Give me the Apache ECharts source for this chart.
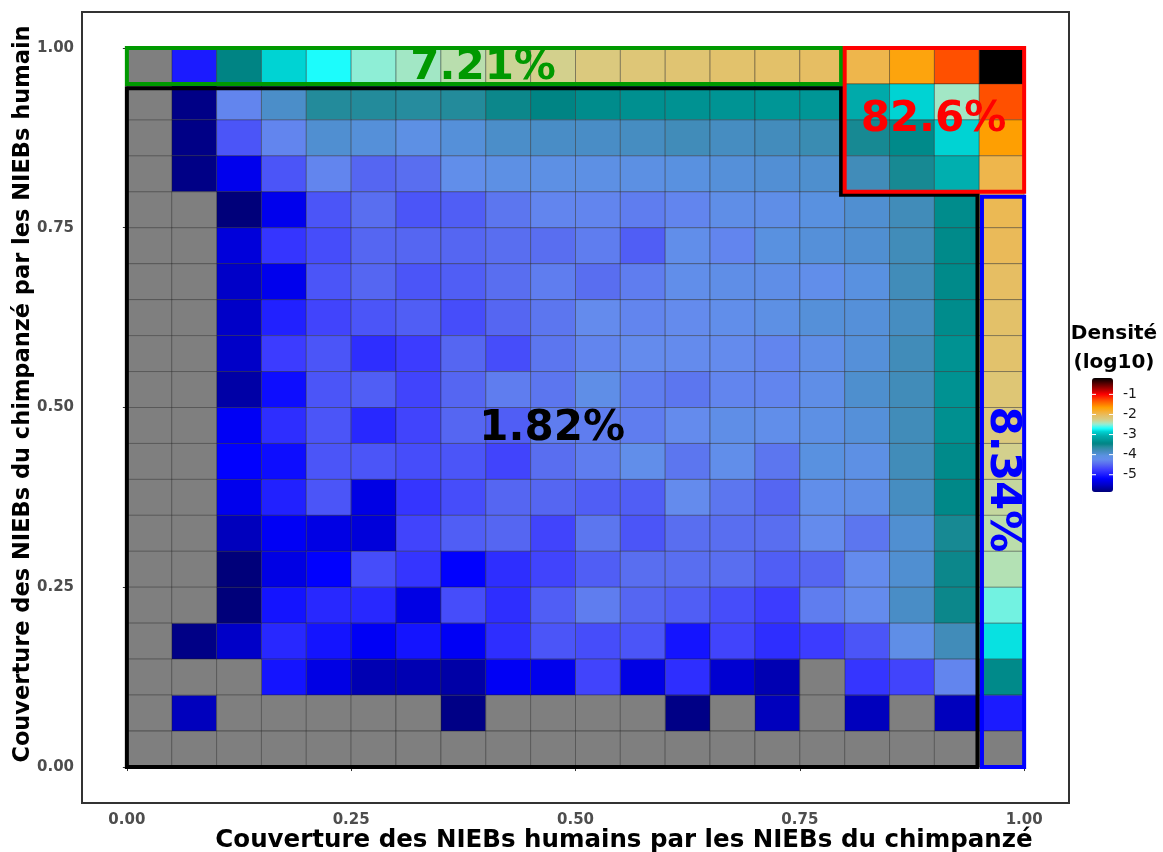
<!DOCTYPE html>
<html>
<head>
<meta charset="utf-8">
<script src="https://cdn.jsdelivr.net/npm/echarts@6/dist/echarts.min.js"></script>
<style>
  html, body { margin: 0; padding: 0; background: #ffffff; }
  #chart { width: 1163px; height: 852px; }
</style>
</head>
<body>
<div id="chart"></div>
<script>
// Left/bottom edge of each coverage bin (bins are 0.05 wide)
const binStarts = [0.00, 0.05, 0.10, 0.15, 0.20, 0.25, 0.30, 0.35, 0.40, 0.45,
                   0.50, 0.55, 0.60, 0.65, 0.70, 0.75, 0.80, 0.85, 0.90, 0.95];
const binWidth = 0.05;

// log10 density of each bin; rows go from the top bin (y = 0.95) down to y = 0,
// columns from x = 0 to x = 0.95; null marks an empty bin
const logDensityRows = [
  [null, -5.0, -3.45, -2.85, -2.7, -2.5, -2.45, -2.38, -2.3, -2.27, -2.2, -2.16, -2.13, -2.1, -2.08, -2.05, -1.95, -1.7, -1.3, -0.185],
  [null, -5.8, -4.3, -3.9, -3.6, -3.6, -3.62, -3.6, -3.5, -3.45, -3.38, -3.35, -3.33, -3.32, -3.3, -3.3, -3.1, -2.85, -2.45, -1.3],
  [null, -5.8, -4.6, -4.3, -3.95, -4.0, -4.1, -4.0, -3.9, -3.88, -3.88, -3.85, -3.8, -3.85, -3.82, -3.75, -3.55, -3.4, -2.85, -1.65],
  [null, -5.8, -5.3, -4.6, -4.3, -4.5, -4.45, -4.2, -4.1, -4.1, -4.1, -4.08, -4.05, -4.0, -3.97, -3.93, -3.8, -3.55, -3.05, -1.95],
  [null, null, -5.85, -5.3, -4.6, -4.45, -4.6, -4.55, -4.4, -4.3, -4.3, -4.35, -4.3, -4.15, -4.15, -4.05, -3.95, -3.8, -3.38, -1.98],
  [null, null, -5.4, -4.8, -4.65, -4.5, -4.5, -4.5, -4.45, -4.45, -4.35, -4.55, -4.2, -4.3, -4.05, -4.0, -3.95, -3.8, -3.4, -2.0],
  [null, null, -5.5, -5.3, -4.6, -4.5, -4.6, -4.55, -4.45, -4.35, -4.45, -4.35, -4.2, -4.15, -4.15, -4.2, -4.05, -3.8, -3.4, -2.05],
  [null, null, -5.5, -4.95, -4.7, -4.6, -4.55, -4.65, -4.5, -4.4, -4.25, -4.3, -4.25, -4.2, -4.1, -4.0, -4.0, -3.85, -3.38, -2.08],
  [null, null, -5.5, -4.75, -4.6, -4.85, -4.75, -4.5, -4.65, -4.4, -4.3, -4.25, -4.25, -4.25, -4.3, -4.15, -4.0, -3.8, -3.33, -2.1],
  [null, null, -5.65, -5.1, -4.6, -4.55, -4.7, -4.5, -4.35, -4.4, -4.15, -4.35, -4.4, -4.3, -4.3, -4.15, -3.93, -3.8, -3.33, -2.15],
  [null, null, -5.25, -4.85, -4.6, -4.9, -4.7, -4.5, -4.55, -4.35, -4.35, -4.35, -4.25, -4.15, -4.2, -4.1, -4.0, -3.8, -3.35, -2.2],
  [null, null, -5.2, -5.1, -4.6, -4.6, -4.65, -4.6, -4.7, -4.45, -4.35, -4.2, -4.4, -4.2, -4.4, -4.05, -4.1, -3.8, -3.4, -2.27],
  [null, null, -5.3, -4.95, -4.6, -5.35, -4.8, -4.65, -4.5, -4.5, -4.55, -4.55, -4.25, -4.4, -4.5, -4.2, -4.15, -3.85, -3.42, -2.33],
  [null, null, -5.55, -5.25, -5.35, -5.4, -4.7, -4.55, -4.5, -4.7, -4.4, -4.6, -4.45, -4.45, -4.45, -4.25, -4.4, -3.95, -3.55, -2.37],
  [null, null, -5.85, -5.35, -5.2, -4.65, -4.8, -5.2, -4.85, -4.7, -4.55, -4.45, -4.45, -4.45, -4.55, -4.5, -4.25, -3.95, -3.5, -2.4],
  [null, null, -5.85, -5.05, -4.9, -4.9, -5.35, -4.65, -4.85, -4.55, -4.35, -4.5, -4.55, -4.65, -4.75, -4.35, -4.25, -3.88, -3.5, -2.55],
  [null, -5.8, -5.5, -4.9, -5.05, -5.25, -5.05, -5.25, -4.85, -4.6, -4.65, -4.6, -5.05, -4.7, -4.85, -4.75, -4.6, -4.15, -3.8, -2.8],
  [null, null, null, -5.05, -5.35, -5.6, -5.6, -5.65, -5.25, -5.3, -4.7, -5.35, -4.85, -5.45, -5.6, null, -4.8, -4.7, -4.3, -3.4],
  [null, -5.55, null, null, null, null, null, -5.8, null, null, null, null, -5.8, null, -5.55, null, -5.55, null, -5.55, -5.0],
  [null, null, null, null, null, null, null, null, null, null, null, null, null, null, null, null, null, null, null, null]
];

const axisTicks = [0, 0.25, 0.5, 0.75, 1];
const legendTicks = [-1, -2, -3, -4, -5];
const densityMin = -5.86;
const densityMax = -0.185;

// Outlined regions (corner coordinates in data units) and their share of all NIEBs
const regionNames = ['haut', 'coin', 'centre', 'droite'];
const regionShares = ['7.21%', '82.6%', '1.82%', '8.34%'];
const regionOutlines = [
  [[0, 0.95], [0.796, 0.95], [0.796, 1], [0, 1], [0, 0.95]],
  [[0.8, 0.8], [1, 0.8], [1, 1], [0.8, 1], [0.8, 0.8]],
  [[0, 0], [0.948, 0], [0.948, 0.796], [0.796, 0.796], [0.796, 0.944], [0, 0.944], [0, 0]],
  [[0.953, 0], [1, 0], [1, 0.793], [0.953, 0.793], [0.953, 0]]
];

// ---- styling / layout ----
const regionColors = ['#009900', '#ff0000', '#000000', '#0000ff'];
const labelAnchors = [[0.397, 0.972], [0.899, 0.899], [0.474, 0.47], [0.975, 0.40]];
const labelRotations = [0, 0, 0, -Math.PI / 2];
const outlineOrder = [0, 2, 3, 1];

const colorStops = [
  [-5.86, [0, 0, 120]], [-5.5, [0, 0, 200]], [-5.2, [0, 0, 255]], [-4.75, [60, 60, 255]],
  [-4.45, [90, 110, 240]], [-4.25, [100, 140, 237]], [-4.05, [90, 145, 225]], [-3.8, [65, 140, 185]],
  [-3.6, [35, 140, 155]], [-3.45, [0, 132, 132]], [-3.3, [0, 150, 150]], [-3.05, [0, 175, 175]],
  [-2.85, [0, 210, 210]], [-2.7, [25, 255, 255]], [-2.5, [144, 238, 215]], [-2.4, [180, 225, 180]],
  [-2.25, [215, 205, 135]], [-2.05, [230, 190, 100]], [-1.9, [242, 178, 65]], [-1.65, [255, 160, 0]],
  [-1.3, [255, 80, 0]], [-1.0, [255, 0, 0]], [-0.185, [0, 0, 0]]
];

function colorAt(v) {
  for (let i = 1; i < colorStops.length; i++) {
    const [v1, c1] = colorStops[i];
    const [v0, c0] = colorStops[i - 1];
    if (v <= v1) {
      const t = (v - v0) / (v1 - v0);
      const c = c0.map((a, k) => Math.round(a + (c1[k] - a) * t));
      return 'rgb(' + c.join(',') + ')';
    }
  }
  const last = colorStops[colorStops.length - 1][1];
  return 'rgb(' + last.join(',') + ')';
}
const rampColors = [];
for (let i = 0; i <= 200; i++) {
  rampColors.push(colorAt(densityMin + (densityMax - densityMin) * i / 200));
}

// Split bins into filled and empty ones
const filledCells = [];
const emptyCells = [];
logDensityRows.forEach((row, r) => {
  const y0 = binStarts[binStarts.length - 1 - r];
  row.forEach((v, c) => {
    const x0 = binStarts[c];
    if (v === null) emptyCells.push([x0, y0]);
    else filledCells.push([x0, y0, v]);
  });
});

function cellShape(api) {
  const p0 = api.coord([api.value(0), api.value(1) + binWidth]);
  const p1 = api.coord([api.value(0) + binWidth, api.value(1)]);
  return { x: p0[0], y: p0[1], width: p1[0] - p0[0], height: p1[1] - p0[1] };
}
const cellStroke = 'rgba(30,30,30,0.55)';

const font = 'DejaVu Sans';
const legendBar = { left: 1092, top: 378, width: 21, height: 114 };

const legendGraphics = [];
legendTicks.forEach(t => {
  const y = legendBar.top + (densityMax - t) / (densityMax - densityMin) * legendBar.height;
  legendGraphics.push({
    type: 'text', x: legendBar.left + legendBar.width + 10, y: y, z: 100,
    style: { text: String(t), fill: '#1a1a1a', font: '14px "' + font + '"', align: 'left', verticalAlign: 'middle' }
  });
  legendGraphics.push({
    type: 'line', z: 100,
    shape: { x1: legendBar.left, y1: y, x2: legendBar.left + 4, y2: y },
    style: { stroke: '#ffffff', lineWidth: 1 }
  });
  legendGraphics.push({
    type: 'line', z: 100,
    shape: { x1: legendBar.left + legendBar.width - 4, y1: y, x2: legendBar.left + legendBar.width, y2: y },
    style: { stroke: '#ffffff', lineWidth: 1 }
  });
});

const chart = echarts.init(document.getElementById('chart'), null, { renderer: 'canvas' });

function makeAxis(labelMargin) {
  return {
    type: 'value', min: -0.05, max: 1.05,
    axisLine: { show: false },
    splitLine: { show: false },
    axisTick: { show: true, customValues: axisTicks, length: 4, lineStyle: { color: '#333333', width: 1 } },
    axisLabel: {
      customValues: axisTicks, formatter: v => v.toFixed(2),
      color: '#4d4d4d', fontSize: 15, fontWeight: 'bold', fontFamily: font, margin: labelMargin
    }
  };
}

chart.setOption({
  backgroundColor: '#ffffff',
  animation: false,
  grid: {
    left: 82, top: 12, width: 987, height: 791,
    show: true, borderColor: '#333333', borderWidth: 2, backgroundColor: 'transparent'
  },
  xAxis: makeAxis(10),
  yAxis: makeAxis(8),
  visualMap: {
    type: 'continuous', seriesIndex: 0, dimension: 2,
    min: densityMin, max: densityMax,
    inRange: { color: rampColors },
    show: true, calculable: false, hoverLink: false, orient: 'vertical',
    left: legendBar.left, top: legendBar.top, itemWidth: legendBar.width, itemHeight: legendBar.height,
    padding: 0, text: null
  },
  graphic: [
    {
      type: 'text', x: 624, y: 841,
      style: { text: 'Couverture des NIEBs humains par les NIEBs du chimpanzé', fill: '#000', font: 'bold 24.5px "' + font + '"', align: 'center', verticalAlign: 'middle' }
    },
    {
      type: 'text', x: 23, y: 394, rotation: Math.PI / 2,
      style: { text: 'Couverture des NIEBs du chimpanzé par les NIEBs humain', fill: '#000', font: 'bold 22.5px "' + font + '"', align: 'center', verticalAlign: 'middle' }
    },
    {
      type: 'text', x: 1114, y: 334,
      style: { text: 'Densité', fill: '#000', font: 'bold 20px "' + font + '"', align: 'center', verticalAlign: 'middle' }
    },
    {
      type: 'text', x: 1114, y: 363,
      style: { text: '(log10)', fill: '#000', font: 'bold 20px "' + font + '"', align: 'center', verticalAlign: 'middle' }
    }
  ].concat(legendGraphics),
  series: [
    {
      type: 'custom', name: 'densité',
      data: filledCells,
      encode: { x: 0, y: 1 },
      renderItem: (params, api) => ({
        type: 'rect', shape: cellShape(api),
        style: { fill: api.visual('color'), stroke: cellStroke, lineWidth: 0.7 }
      }),
      z: 1
    },
    {
      type: 'custom', name: 'vide',
      data: emptyCells,
      encode: { x: 0, y: 1 },
      renderItem: (params, api) => ({
        type: 'rect', shape: cellShape(api),
        style: { fill: '#7f7f7f', stroke: cellStroke, lineWidth: 0.7 }
      }),
      z: 1
    }
  ].concat(outlineOrder.map(i => ({
    type: 'line', name: regionNames[i],
    data: regionOutlines[i],
    symbol: 'none', silent: true,
    lineStyle: { color: regionColors[i], width: 4, join: 'miter', cap: 'square' },
    z: 5
  }))).concat([{
    type: 'custom', name: 'parts',
    data: regionShares.map((s, i) => [labelAnchors[i][0], labelAnchors[i][1], i]),
    encode: { x: 0, y: 1 },
    renderItem: (params, api) => {
      const i = api.value(2);
      const p = api.coord([api.value(0), api.value(1)]);
      return {
        type: 'text', x: p[0], y: p[1], rotation: labelRotations[i],
        style: { text: regionShares[i], fill: regionColors[i], font: 'bold 42px "' + font + '"', align: 'center', verticalAlign: 'middle' }
      };
    },
    z: 10
  }])
});
</script>
</body>
</html>
